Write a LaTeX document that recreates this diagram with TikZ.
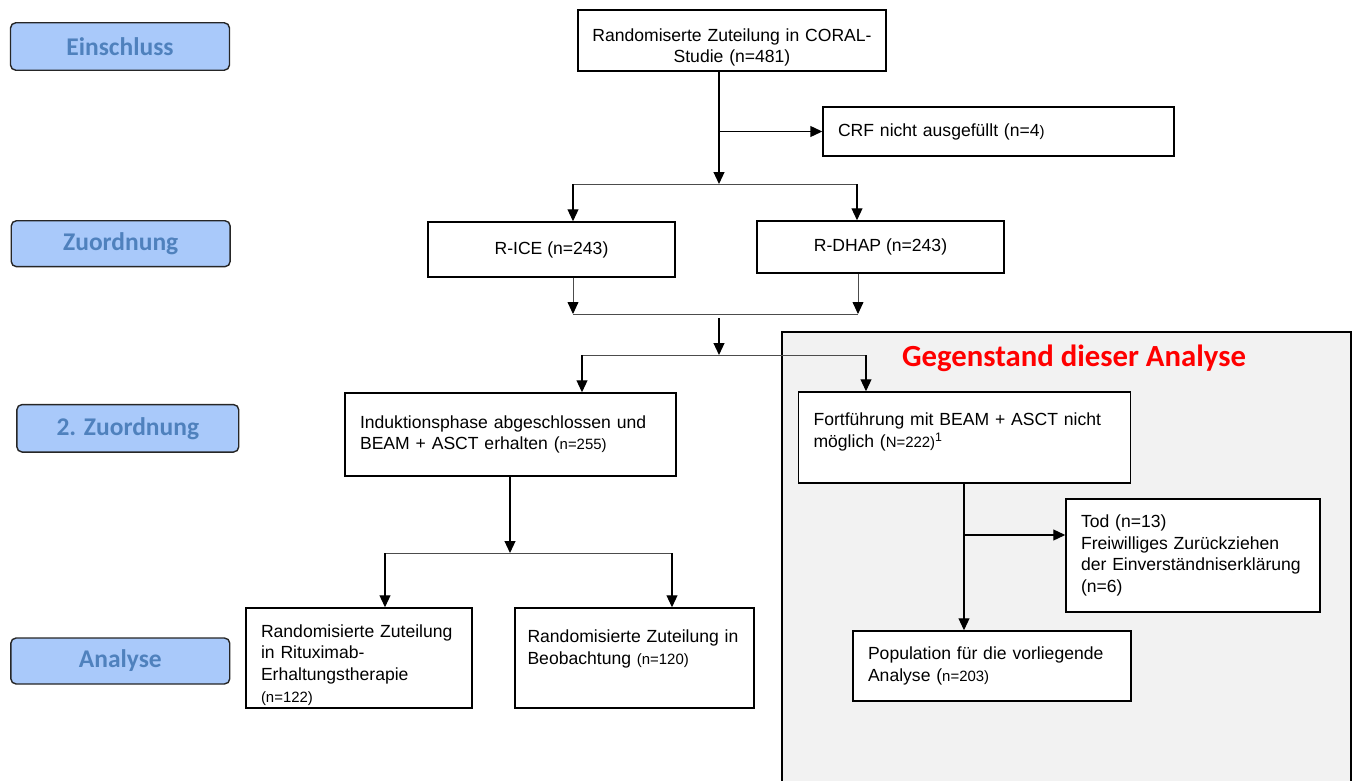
\documentclass[tikz,border=0pt]{standalone}
\usepackage{fontspec}
\setmainfont{Liberation Sans}
\newfontfamily\carlito{Carlito}
\usetikzlibrary{positioning,arrows.meta,calc}

\definecolor{phasefill}{RGB}{169,201,250}
\definecolor{phasetext}{RGB}{79,129,189}
\definecolor{panelgrey}{RGB}{242,242,242}
\definecolor{titlered}{RGB}{255,0,0}

\newcommand{\phasefont}{\carlito\bfseries\fontsize{14.5}{17}\selectfont}
\newcommand{\boxfont}{\fontsize{10}{12.3}\selectfont}
\newcommand{\nsmall}[1]{{\fontsize{8.5}{10}\selectfont #1}}

\tikzset{
>={Triangle[length=6.8pt,width=6.2pt,color=black]},
  phase/.style={
    rectangle,
    rounded corners=3pt,
    fill=phasefill,
    draw=black!85, line width=0.8pt,
    text=phasetext,
    font=\phasefont,
    minimum width=4.38cm,
    minimum height=0.95cm},
  flowbox/.style={
    rectangle,
    draw=black, line width=0.85pt,
    fill=white,
    font=\boxfont,
    inner xsep=0.3cm},
  panel/.style={
    rectangle,
    draw=black, line width=0.9pt,
    fill=panelgrey},
  line/.style={draw, line width=0.75pt},
  merge/.style={draw, line width=0.5pt, black!70}
}

\begin{document}
\begin{tikzpicture}[x=0.02cm, y=-0.02cm]
  \useasboundingbox (0,0) rectangle (1357,781);

  % phases on the left
  \node[phase] (einschluss) at (120,46.5) {Einschluss};
  \node[phase, minimum height=0.92cm] (zuordnung) at (120.7,243.7) {Zuordnung};
  \node[phase, minimum width=4.44cm] (zuordnung2) at (127.8,428.3) {2. Zuordnung};
  \node[phase, minimum height=0.92cm] (analyse) at (120.3,661) {Analyse};

  % grey area
  \node[panel, minimum width=11.38cm, minimum height=9.26cm] (zone) at (1066.5,563.5) {};
  \node[font=\carlito\bfseries\fontsize{17.5}{20}\selectfont, text=titlered] (gegenstand) at (1074,358) {Gegenstand dieser Analyse};

  % boxes
  \node[flowbox, align=center, text width=5.9cm, text height=15pt, inner xsep=0.12cm, inner ysep=1pt,
        minimum width=6.16cm, minimum height=1.22cm] (coral) at (732,40.5)
    {Randomiserte Zuteilung in CORAL-\\Studie (n=481)};
  \node[flowbox, align=left, text width=6.42cm, minimum height=0.98cm] (crf) at (998.5,131.5)
    {CRF nicht ausgefüllt (n=4\nsmall{)}};
  \node[flowbox, minimum width=4.94cm, minimum height=1.1cm] (rice) at (551.5,249.5) {R-ICE (n=243)};
  \node[flowbox, minimum width=4.94cm, minimum height=1.04cm] (dhap) at (880.5,247) {R-DHAP (n=243)};
  \node[flowbox, align=left, text width=6.02cm, minimum height=1.66cm] (indu) at (510.5,434.5)
    {Induktionsphase abgeschlossen und\\BEAM + ASCT erhalten (\nsmall{n=255)}};
  \node[flowbox, align=left, text width=6.04cm, minimum height=1.82cm] (fort) at (964.5,437.5)
    {Fortführung mit BEAM + ASCT nicht\\möglich (\nsmall{N=222)}\textsuperscript{1}\\[-4pt]\mbox{}};
  \node[flowbox, align=left, text width=4.48cm, minimum height=2.26cm] (tod) at (1193,555.5)
    {Tod (n=13)\\Freiwilliges Zurückziehen\\der Einverständniserklärung\\(n=6)};
  \node[flowbox, align=left, text width=3.92cm, text height=15pt, inner ysep=1pt,
        minimum height=2cm] (ritux) at (359,658)
    {Randomisierte Zuteilung\\in Rituximab-\\Erhaltungstherapie\\\nsmall{(n=122)}};
  \node[flowbox, align=left, inner xsep=0.25cm, text width=4.28cm, minimum height=2cm] (beob) at (634.5,658)
    {Randomisierte Zuteilung in\\Beobachtung \nsmall{(n=120)}\\\mbox{}};
  \node[flowbox, align=left, text width=4.96cm, minimum height=1.4cm] (pop) at (992,666)
    {Population für die vorliegende\\Analyse (\nsmall{n=203)}};

  % split points
  \coordinate (t1) at (719,184);
  \coordinate (sL) at (573,184);
  \coordinate (sR) at (857,184);
  \coordinate (mL) at (573,314);
  \coordinate (mR) at (858,314);
  \coordinate (m0) at (719,318);
  \coordinate (t2) at (719,355);
  \coordinate (bL) at (582,355);
  \coordinate (bR) at (866,355);
  \coordinate (t3) at (510,553);
  \coordinate (aL) at (385,553);
  \coordinate (aR) at (672,553);
  \coordinate (t4) at (964,535);

  \draw[line, ->] (coral.south -| t1) -- (t1);
  \draw[line, ->] (t1 |- crf.west) -- (crf.west);
  \draw[merge] (sL) -- (sR);
  \draw[line, ->] (sL) -- (sL |- rice.north);
  \draw[line, ->] (sR) -- (sR |- dhap.north);

  \draw[merge, ->] (rice.south -| mL) -- (mL);
  \draw[merge, ->] (dhap.south -| mR) -- (mR);
  \draw[merge] (mL) -- (mR);

  \draw[line, ->] (m0) -- (t2);
  \draw[merge] (bL) -- (bR);
  \draw[line, ->] (bL) -- (bL |- indu.north);
  \draw[line, ->] (bR) -- (bR |- fort.north);

  \draw[line, ->] (indu.south -| t3) -- (t3);
  \draw[merge] (aL) -- (aR);
  \draw[line, ->] (aL) -- (aL |- ritux.north);
  \draw[line, ->] (aR) -- (aR |- beob.north);

  \draw[line, ->] (fort.south -| t4) -- (t4 |- pop.north);
  \draw[line, ->] (t4) -- (t4 -| tod.west);
\end{tikzpicture}
\end{document}
